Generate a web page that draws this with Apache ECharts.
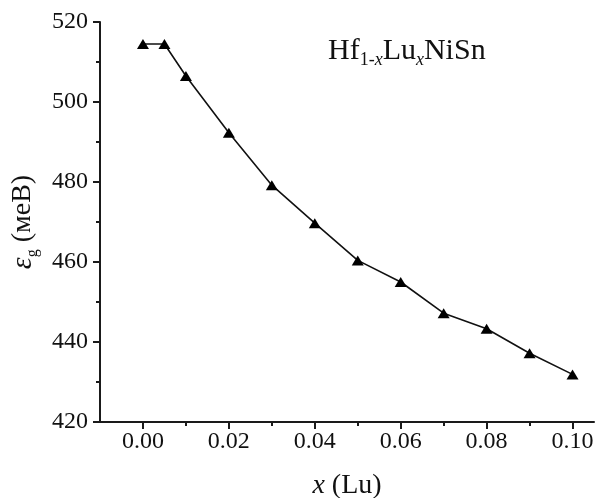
<!DOCTYPE html>
<html>
<head>
<meta charset="utf-8">
<script src="https://cdn.jsdelivr.net/npm/echarts@6/dist/echarts.min.js"></script>
<style>html,body{margin:0;padding:0;background:#fff;}#c{width:597px;height:498px;}</style>
</head>
<body>
<div id="c"></div>
<script>
const xValues = [0, 0.005, 0.01, 0.02, 0.03, 0.04, 0.05, 0.06, 0.07, 0.08, 0.09, 0.10];
const egValues = [514.5, 514.5, 506.5, 492.3, 479.2, 469.7, 460.4, 455.0, 447.2, 443.3, 437.2, 431.9];
const xMajorTicks = [0, 0.02, 0.04, 0.06, 0.08, 0.10];
const xMinorTicks = [0.01, 0.03, 0.05, 0.07, 0.09];

const FONT = '"Liberation Serif", "Times New Roman", serif';
const chart = echarts.init(document.getElementById('c'), null, {renderer: 'canvas'});
const axisLineStyle = {color: '#1a1a1a', width: 2};

chart.setOption({
  animation: false,
  backgroundColor: '#ffffff',
  title: {
    left: 323, top: 28,
    text: '{m|Hf}{s|1-}{si|x}{m|Lu}{si|x}{m|NiSn}',
    textStyle: {
      fontWeight: 'normal',
      rich: {
        m: {fontFamily: FONT, fontSize: 30, fontWeight: 'normal', color: '#111', lineHeight: 36, verticalAlign: 'middle'},
        s: {fontFamily: FONT, fontSize: 18, fontWeight: 'normal', color: '#111', lineHeight: 16, verticalAlign: 'bottom'},
        si: {fontFamily: FONT, fontSize: 18, fontWeight: 'normal', fontStyle: 'italic', color: '#111', lineHeight: 16, verticalAlign: 'bottom'}
      }
    }
  },
  grid: {left: 100, top: 22, right: 3, bottom: 76, containLabel: false, outerBoundsMode: 'none'},
  xAxis: [{
    type: 'value', min: -0.01, max: 0.105,
    axisLine: {show: true, onZero: false, lineStyle: axisLineStyle},
    axisTick: {show: true, customValues: xMajorTicks, length: 7, lineStyle: {color: '#1a1a1a', width: 2}},
    axisLabel: {show: true, customValues: xMajorTicks, margin: 8, fontFamily: FONT, fontSize: 24, color: '#111',
      formatter: v => v.toFixed(2)},
    splitLine: {show: false},
    name: '{i|x}{n| (Lu)}',
    nameLocation: 'middle', nameGap: 50,
    nameTextStyle: {rich: {
      i: {fontFamily: FONT, fontSize: 28, fontStyle: 'italic', color: '#111'},
      n: {fontFamily: FONT, fontSize: 28, color: '#111'}
    }}
  }, {
    type: 'value', min: -0.01, max: 0.105, position: 'bottom',
    axisLine: {show: false, onZero: false},
    axisTick: {show: true, customValues: xMinorTicks, length: 4, lineStyle: {color: '#1a1a1a', width: 2}},
    axisLabel: {show: false},
    splitLine: {show: false}
  }],
  yAxis: {
    type: 'value', min: 420, max: 520, interval: 20,
    axisLine: {show: true, onZero: false, lineStyle: axisLineStyle},
    axisTick: {show: true, length: 7, lineStyle: {color: '#1a1a1a', width: 2}},
    minorTick: {show: true, splitNumber: 2, length: 4, lineStyle: {color: '#1a1a1a', width: 2}},
    axisLabel: {margin: 12, fontFamily: FONT, fontSize: 24, color: '#111'},
    splitLine: {show: false},
    name: '{e|ε}{g|g}{n| (меВ)}',
    nameLocation: 'middle', nameRotate: 90, nameGap: 58,
    nameTextStyle: {rich: {
      e: {fontFamily: FONT, fontSize: 30, fontStyle: 'italic', color: '#111', lineHeight: 36, verticalAlign: 'middle'},
      g: {fontFamily: FONT, fontSize: 16, color: '#111', lineHeight: 16, verticalAlign: 'bottom'},
      n: {fontFamily: FONT, fontSize: 28, color: '#111', lineHeight: 36, verticalAlign: 'middle'}
    }}
  },
  series: [{
    type: 'line',
    xAxisIndex: 0,
    data: xValues.map((x, i) => [x, egValues[i]]),
    symbol: 'triangle', symbolSize: [12, 10],
    showAllSymbol: true,
    lineStyle: {color: '#111', width: 1.6},
    itemStyle: {color: '#000'},
    emphasis: {disabled: true}
  }]
});
</script>
</body>
</html>
